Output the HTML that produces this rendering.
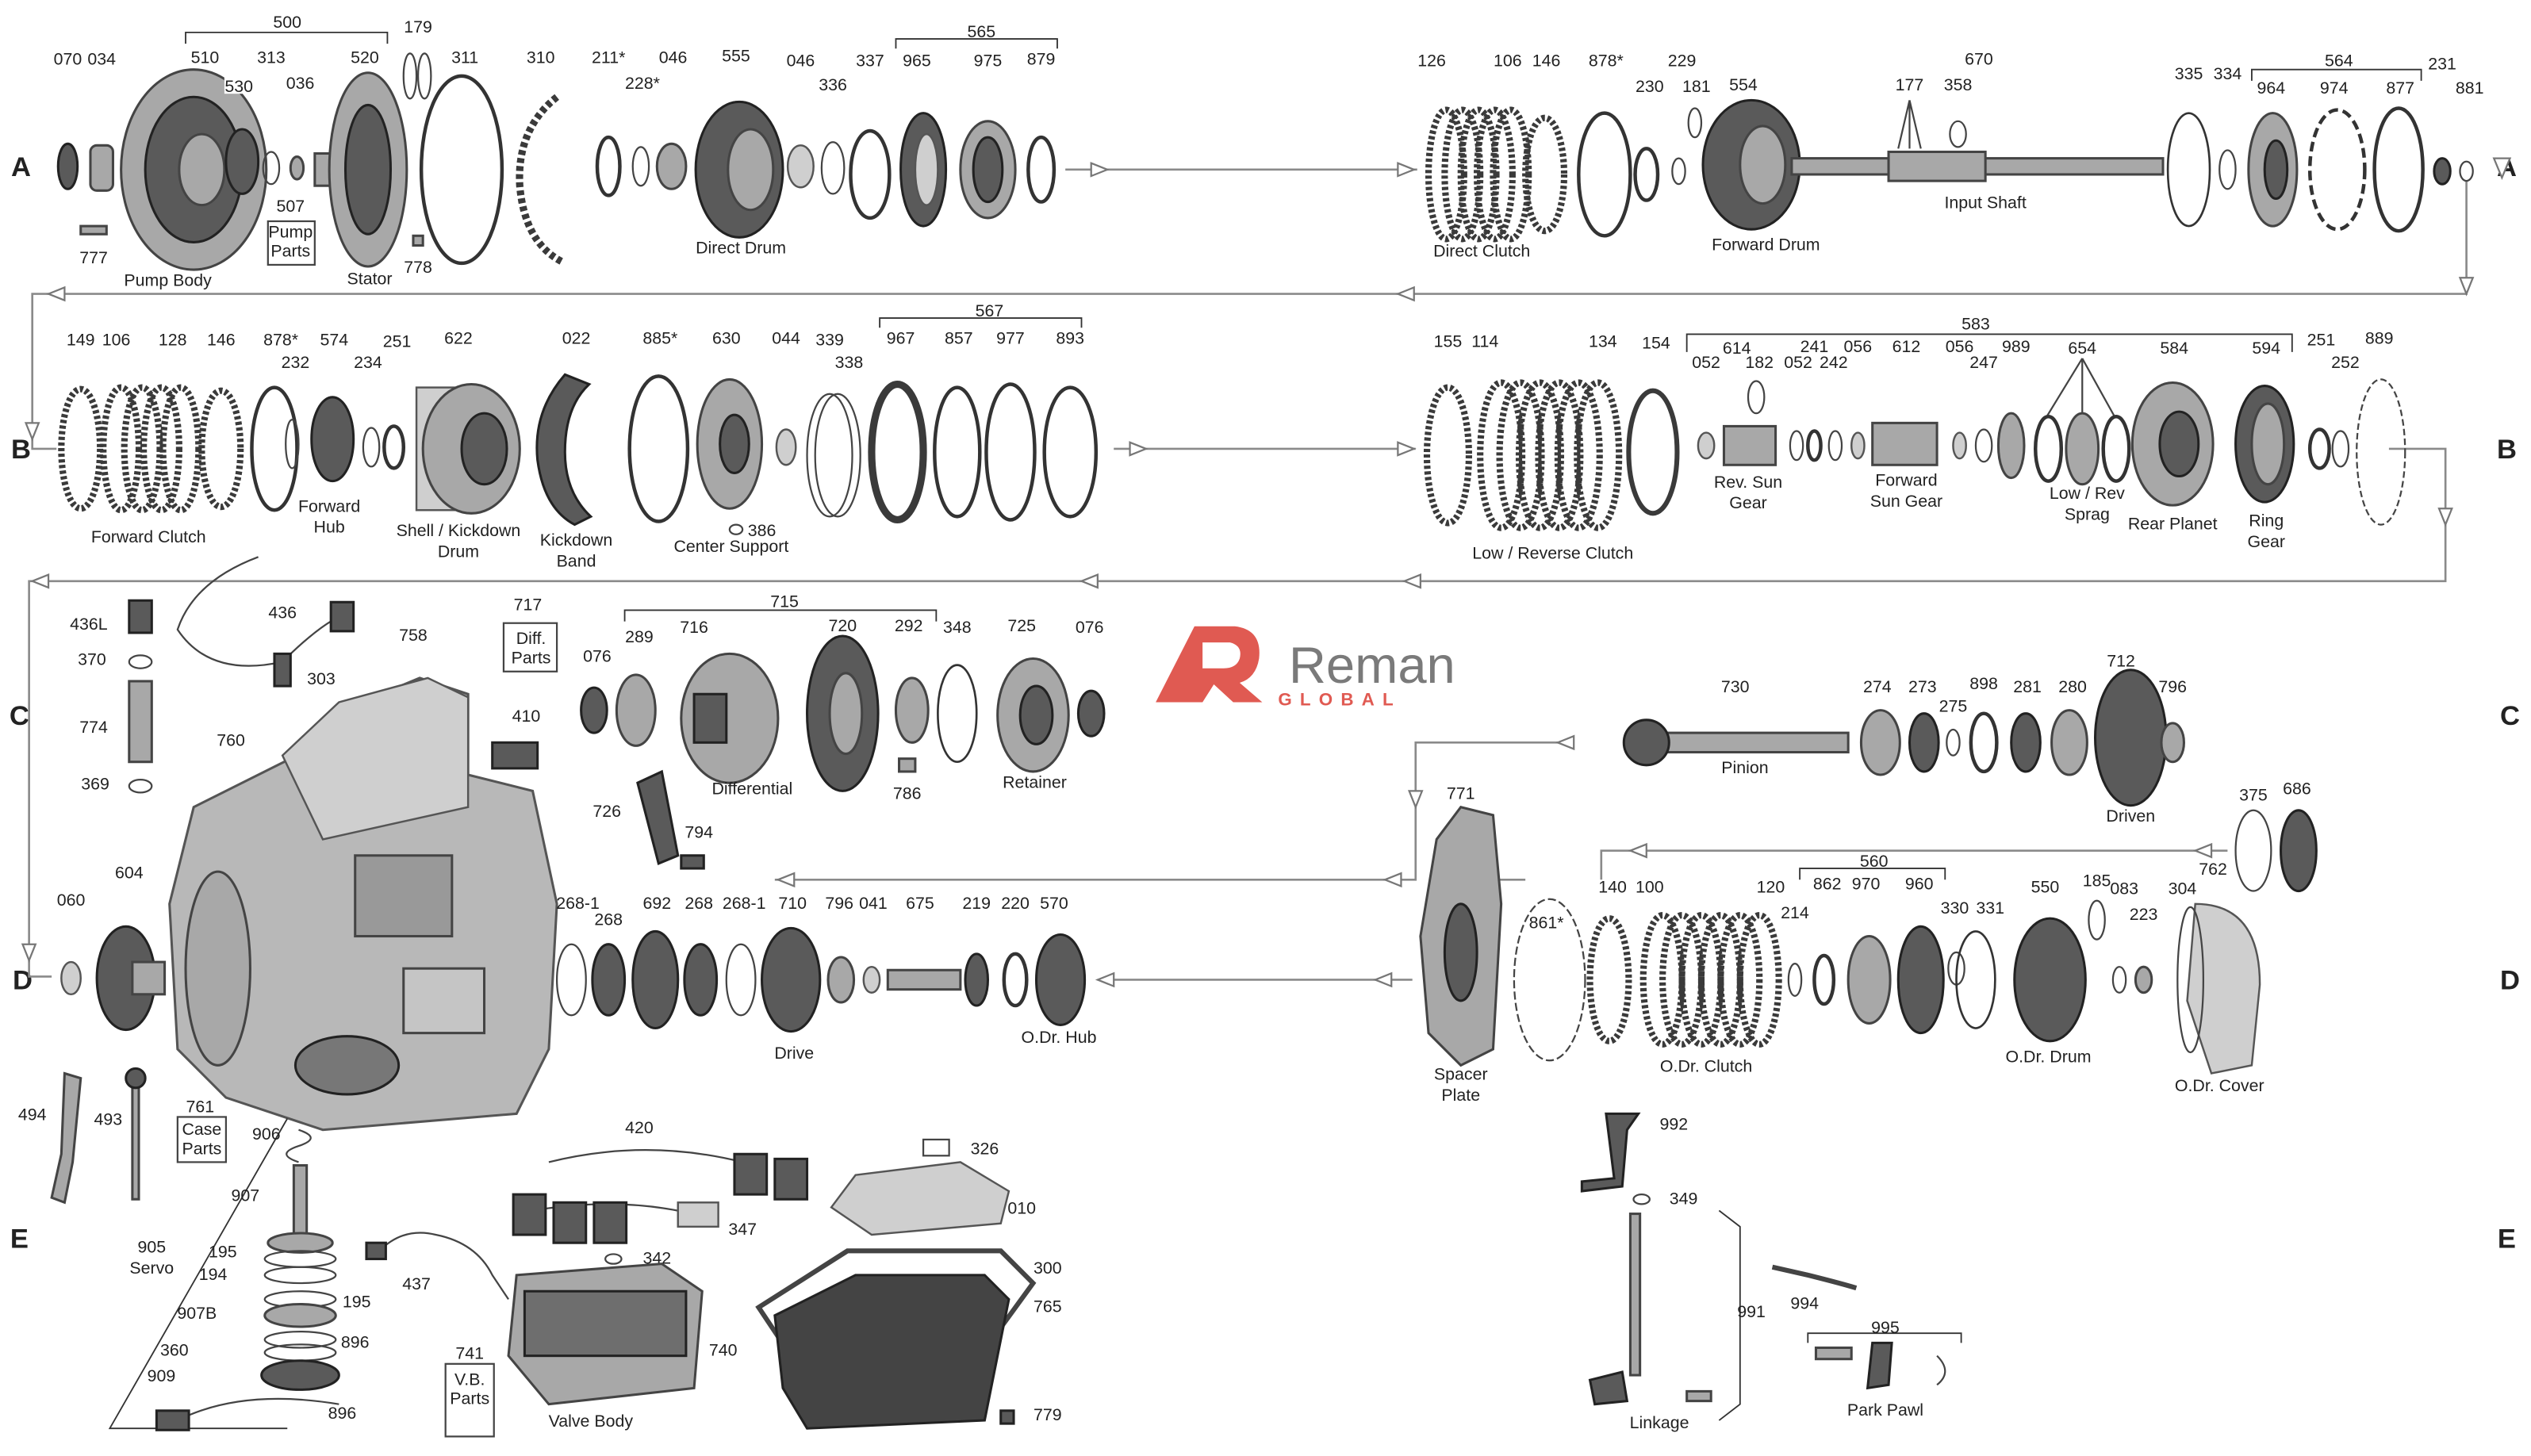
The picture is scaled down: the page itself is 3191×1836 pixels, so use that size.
<!DOCTYPE html>
<html><head><meta charset="utf-8"><style>
html,body{margin:0;padding:0;background:#fff;}
svg{display:block}
text{font-family:"Liberation Sans",sans-serif;font-size:10.5px;fill:#222;text-anchor:middle}
.r{fill:none;stroke:#333;stroke-width:2.2}
.t{fill:none;stroke:#444;stroke-width:1.1}
.k{fill:none;stroke:#3a3a3a;stroke-width:4.5}
.d{fill:#5a5a5a;stroke:#222;stroke-width:1.5}
.g{fill:#a8a8a8;stroke:#444;stroke-width:1.5}
.l{fill:#cfcfcf;stroke:#555;stroke-width:1.2}
.f{fill:none;stroke:#8a8a8a;stroke-width:1.3}
.a{fill:#fff;stroke:#777;stroke-width:1.1}
.big{font-size:17px;font-weight:bold}
.ln{fill:none;stroke:#333;stroke-width:0.9}
</style></head><body>
<svg width="3191" height="1836" viewBox="0 0 1568 902" xmlns="http://www.w3.org/2000/svg">
<rect width="1568" height="902" fill="#fff"/>
<text class="big" x="13" y="109">A</text><text class="big" x="1553" y="109">A</text>
<text class="big" x="13" y="284">B</text><text class="big" x="1553" y="284">B</text>
<text class="big" x="12" y="449">C</text><text class="big" x="1555" y="449">C</text>
<text class="big" x="14" y="613">D</text><text class="big" x="1555" y="613">D</text>
<text class="big" x="12" y="773">E</text><text class="big" x="1553" y="773">E</text>

<polyline class="f" points="660,105 878,105"/>
<polyline class="f" points="1528,112 1528,182 20,182 20,278 35,278"/>
<polyline class="f" points="690,278 877,278"/>
<polyline class="f" points="1480,278 1515,278 1515,360 18,360 18,605 32,605"/>
<polyline class="f" points="975,460 877,460 877,545 480,545"/>
<polyline class="f" points="875,607 680,607"/>
<polyline class="f" points="1380,527 992,527 992,545"/>
<polyline class="f" points="945,545 928,545"/>
<polygon class="a" points="676,101 686,105 676,109"/><polygon class="a" points="866,101 876,105 866,109"/>
<polygon class="a" points="1524,172 1528,182 1532,172"/><polygon class="a" points="876,178 866,182 876,186"/><polygon class="a" points="40,178 30,182 40,186"/>
<polygon class="a" points="16,262 20,272 24,262"/>
<polygon class="a" points="700,274 710,278 700,282"/><polygon class="a" points="866,274 876,278 866,282"/>
<polygon class="a" points="1511,315 1515,325 1519,315"/><polygon class="a" points="880,356 870,360 880,364"/><polygon class="a" points="680,356 670,360 680,364"/><polygon class="a" points="30,356 20,360 30,364"/><polygon class="a" points="14,585 18,595 22,585"/>
<polygon class="a" points="975,456 965,460 975,464"/><polygon class="a" points="873,490 877,500 881,490"/><polygon class="a" points="868,541 858,545 868,549"/><polygon class="a" points="492,541 482,545 492,549"/>
<polygon class="a" points="862,603 852,607 862,611"/><polygon class="a" points="690,603 680,607 690,611"/>
<polygon class="a" points="1020,523 1010,527 1020,531"/><polygon class="a" points="1370,523 1360,527 1370,531"/><polygon class="a" points="1545,98 1550,110 1555,98"/>

<g>
<path d="M740,388 L765,388 Q782,390 780,408 Q778,420 768,423 L782,435 L764,435 L752,424 L745,435 L716,435 Z" fill="#e05a52"/>
<path d="M745,398 L762,398 Q770,400 768,408 Q766,414 758,414 L745,414 Z" fill="#fff"/>
<text x="850" y="423" style="font-size:32px;fill:#7a7a7a">Reman</text>
<text x="830" y="437" style="font-size:11px;fill:#e05a52;letter-spacing:5px;font-weight:bold">GLOBAL</text>
</g>

<ellipse class="d" cx="42" cy="103" rx="6" ry="14"/>
<rect class="g" x="56" y="90" width="14" height="28" rx="4"/>
<ellipse class="g" cx="120" cy="105" rx="45" ry="62"/><ellipse class="d" cx="120" cy="105" rx="30" ry="45"/><ellipse class="g" cx="125" cy="105" rx="14" ry="22"/>
<ellipse class="d" cx="150" cy="100" rx="10" ry="20"/>
<ellipse class="t" cx="168" cy="104" rx="5" ry="10"/><ellipse class="g" cx="184" cy="104" rx="4" ry="7"/>
<rect class="g" x="195" y="95" width="22" height="20"/><ellipse class="g" cx="228" cy="105" rx="24" ry="60"/><ellipse class="d" cx="228" cy="105" rx="14" ry="40"/>
<ellipse class="t" cx="254" cy="47" rx="4" ry="14"/><ellipse class="t" cx="263" cy="47" rx="4" ry="14"/>
<ellipse class="r" cx="286" cy="105" rx="25" ry="58"/>
<path class="k" d="M345,60 Q320,80 322,115 Q325,150 348,162" style="stroke-dasharray:3 2"/>
<ellipse class="r" cx="377" cy="103" rx="7" ry="18"/><ellipse class="t" cx="397" cy="103" rx="5" ry="12"/>
<ellipse class="g" cx="416" cy="103" rx="9" ry="14"/>
<ellipse class="d" cx="458" cy="105" rx="27" ry="42"/><ellipse class="g" cx="465" cy="105" rx="14" ry="25"/>
<ellipse class="l" cx="496" cy="103" rx="8" ry="13"/><ellipse class="t" cx="516" cy="104" rx="7" ry="16"/>
<ellipse class="r" cx="539" cy="108" rx="12" ry="27"/>
<ellipse class="d" cx="572" cy="105" rx="14" ry="35"/><ellipse class="l" cx="574" cy="105" rx="7" ry="22"/>
<ellipse class="g" cx="612" cy="105" rx="17" ry="30"/><ellipse class="d" cx="612" cy="105" rx="9" ry="20"/>
<ellipse class="r" cx="645" cy="105" rx="8" ry="20"/>
<polyline class="ln" points="115,27 115,20 240,20 240,27"/>
<text x="178" y="17">500</text><text x="42" y="40">070</text><text x="63" y="40">034</text><text x="127" y="39">510</text><rect x="139" y="46" width="18" height="12" fill="#fff"/><text x="148" y="57">530</text><text x="168" y="39">313</text><text x="186" y="55">036</text><text x="226" y="39">520</text><text x="259" y="20">179</text><text x="288" y="39">311</text><text x="335" y="39">310</text><text x="377" y="39">211*</text><text x="398" y="55">228*</text><text x="417" y="39">046</text><text x="456" y="38">555</text><text x="496" y="41">046</text><text x="516" y="56">336</text><text x="539" y="41">337</text><polyline class="ln" points="555,30 555,24 655,24 655,30"/><text x="608" y="23">565</text><text x="568" y="41">965</text><text x="612" y="41">975</text><text x="645" y="40">879</text>
<rect x="166" y="137" width="29" height="27" class="t"/><text x="180" y="131">507</text><text x="180" y="147">Pump</text><text x="180" y="159">Parts</text>
<rect class="g" x="50" y="140" width="16" height="5"/><text x="58" y="163">777</text>
<text x="104" y="177">Pump Body</text><text x="229" y="176">Stator</text><rect class="g" x="256" y="146" width="6" height="6"/><text x="259" y="169">778</text><text x="459" y="157">Direct Drum</text>

<text x="887" y="41">126</text><text x="934" y="41">106</text><text x="958" y="41">146</text><text x="995" y="41">878*</text><text x="1042" y="41">229</text><text x="1022" y="57">230</text><text x="1051" y="57">181</text><text x="1080" y="56">554</text><text x="1183" y="56">177</text><text x="1213" y="56">358</text><text x="1226" y="40">670</text><polyline class="ln" points="1395,50 1395,43 1500,43 1500,50"/><text x="1449" y="41">564</text><text x="1356" y="49">335</text><text x="1380" y="49">334</text><text x="1407" y="58">964</text><text x="1446" y="58">974</text><text x="1487" y="58">877</text><text x="1513" y="43">231</text><text x="1530" y="58">881</text>
<g class="k" style="stroke-width:4;stroke-dasharray:2 1.5">
<ellipse cx="896" cy="108" rx="11" ry="40"/><ellipse cx="906" cy="108" rx="11" ry="40"/><ellipse cx="916" cy="108" rx="11" ry="40"/><ellipse cx="926" cy="108" rx="11" ry="40"/><ellipse cx="936" cy="108" rx="11" ry="40"/><ellipse cx="957" cy="108" rx="12" ry="35"/></g>
<ellipse class="r" cx="994" cy="108" rx="16" ry="38"/><ellipse class="r" cx="1020" cy="108" rx="7" ry="16"/><ellipse class="t" cx="1040" cy="106" rx="4" ry="8"/><ellipse class="t" cx="1050" cy="76" rx="4" ry="9"/>
<ellipse class="d" cx="1085" cy="102" rx="30" ry="40"/><ellipse class="g" cx="1092" cy="102" rx="14" ry="24"/>
<rect class="g" x="1110" y="98" width="230" height="10"/><rect class="g" x="1170" y="94" width="60" height="18"/>
<path class="t" d="M1183,62 L1176,92 M1183,62 L1183,92 M1183,62 L1190,92"/><ellipse class="t" cx="1213" cy="83" rx="5" ry="8"/>
<ellipse class="r" cx="1356" cy="105" rx="13" ry="35" style="stroke-width:1.3"/><ellipse class="t" cx="1380" cy="105" rx="5" ry="12"/>
<ellipse class="g" cx="1408" cy="105" rx="15" ry="35"/><ellipse class="d" cx="1410" cy="105" rx="7" ry="18"/>
<ellipse class="r" cx="1448" cy="105" rx="17" ry="37" style="stroke-dasharray:6 3"/><ellipse class="r" cx="1486" cy="105" rx="15" ry="38"/>
<ellipse class="d" cx="1513" cy="106" rx="5" ry="8"/><ellipse class="t" cx="1528" cy="106" rx="4" ry="6"/>
<text x="918" y="159">Direct Clutch</text><text x="1094" y="155">Forward Drum</text><text x="1230" y="129">Input Shaft</text>

<text x="50" y="214">149</text><text x="72" y="214">106</text><text x="107" y="214">128</text><text x="137" y="214">146</text><text x="174" y="214">878*</text><text x="183" y="228">232</text><text x="207" y="214">574</text><text x="228" y="228">234</text><text x="246" y="215">251</text><text x="284" y="213">622</text><text x="357" y="213">022</text><text x="409" y="213">885*</text><text x="450" y="213">630</text><text x="487" y="213">044</text><text x="514" y="214">339</text><text x="526" y="228">338</text><polyline class="ln" points="545,203 545,197 670,197 670,203"/><text x="613" y="196">567</text><text x="558" y="213">967</text><text x="594" y="213">857</text><text x="626" y="213">977</text><text x="663" y="213">893</text>
<g class="k" style="stroke-width:4;stroke-dasharray:2 1.5">
<ellipse cx="50" cy="278" rx="12" ry="37"/><ellipse cx="75" cy="278" rx="11" ry="38"/><ellipse cx="88" cy="278" rx="11" ry="38"/><ellipse cx="100" cy="278" rx="11" ry="38"/><ellipse cx="112" cy="278" rx="11" ry="38"/><ellipse cx="137" cy="278" rx="12" ry="36"/></g>
<ellipse class="r" cx="170" cy="278" rx="14" ry="38"/><ellipse class="t" cx="181" cy="275" rx="4" ry="15"/>
<ellipse class="d" cx="206" cy="272" rx="13" ry="26"/><ellipse class="t" cx="230" cy="277" rx="5" ry="12"/><ellipse class="r" cx="244" cy="277" rx="6" ry="13"/>
<rect class="l" x="258" y="240" width="32" height="76"/><ellipse class="g" cx="292" cy="278" rx="30" ry="40"/><ellipse class="d" cx="300" cy="278" rx="14" ry="22"/>
<path d="M350,232 Q330,255 333,285 Q337,315 356,325 L366,320 Q350,305 350,280 Q350,252 365,238 Z" class="d"/>
<ellipse class="r" cx="408" cy="278" rx="18" ry="45"/>
<ellipse class="g" cx="452" cy="275" rx="20" ry="40"/><ellipse class="d" cx="455" cy="275" rx="9" ry="18"/>
<ellipse class="l" cx="487" cy="277" rx="6" ry="11"/><ellipse class="t" cx="514" cy="282" rx="14" ry="38"/><ellipse class="t" cx="519" cy="282" rx="14" ry="38"/>
<ellipse class="k" cx="556" cy="280" rx="16" ry="42"/><ellipse class="r" cx="593" cy="280" rx="14" ry="40"/><ellipse class="r" cx="626" cy="280" rx="15" ry="42"/><ellipse class="r" cx="663" cy="280" rx="16" ry="40"/>
<text x="92" y="336">Forward Clutch</text><text x="204" y="317">Forward</text><text x="204" y="330">Hub</text><text x="284" y="332">Shell / Kickdown</text><text x="284" y="345">Drum</text><text x="357" y="338">Kickdown</text><text x="357" y="351">Band</text><ellipse class="t" cx="456" cy="328" rx="4" ry="3"/><text x="472" y="332">386</text><text x="453" y="342">Center Support</text>

<text x="897" y="215">155</text><text x="920" y="215">114</text><text x="993" y="215">134</text><text x="1026" y="216">154</text><polyline class="ln" points="1045,218 1045,207 1420,207 1420,218"/><text x="1224" y="204">583</text><text x="1057" y="228">052</text><text x="1076" y="219">614</text><text x="1090" y="228">182</text><text x="1124" y="218">241</text><text x="1114" y="228">052</text><text x="1136" y="228">242</text><text x="1151" y="218">056</text><text x="1181" y="218">612</text><text x="1214" y="218">056</text><text x="1229" y="228">247</text><text x="1249" y="218">989</text><text x="1290" y="219">654</text><text x="1347" y="219">584</text><text x="1404" y="219">594</text><text x="1438" y="214">251</text><text x="1453" y="228">252</text><text x="1474" y="213">889</text>
<g class="k" style="stroke-width:4;stroke-dasharray:2 1.5">
<ellipse cx="897" cy="282" rx="13" ry="42"/><ellipse cx="930" cy="282" rx="13" ry="45"/><ellipse cx="942" cy="282" rx="13" ry="45"/><ellipse cx="954" cy="282" rx="13" ry="45"/><ellipse cx="966" cy="282" rx="13" ry="45"/><ellipse cx="978" cy="282" rx="13" ry="45"/><ellipse cx="990" cy="282" rx="13" ry="45"/></g>
<ellipse class="k" cx="1024" cy="280" rx="15" ry="38" style="stroke-width:3"/>
<ellipse class="l" cx="1057" cy="276" rx="5" ry="8"/><rect class="g" x="1068" y="264" width="32" height="24"/><ellipse class="t" cx="1088" cy="246" rx="5" ry="10"/>
<ellipse class="t" cx="1113" cy="276" rx="4" ry="9"/><ellipse class="r" cx="1124" cy="276" rx="4" ry="9"/><ellipse class="t" cx="1137" cy="276" rx="4" ry="9"/><ellipse class="l" cx="1151" cy="276" rx="4" ry="8"/>
<rect class="g" x="1160" y="262" width="40" height="26"/><ellipse class="l" cx="1214" cy="276" rx="4" ry="8"/><ellipse class="t" cx="1229" cy="276" rx="5" ry="10"/>
<ellipse class="g" cx="1246" cy="276" rx="8" ry="20"/><path class="t" d="M1290,222 L1268,258 M1290,222 L1290,258 M1290,222 L1310,258"/>
<ellipse class="r" cx="1269" cy="278" rx="8" ry="20"/><ellipse class="g" cx="1290" cy="278" rx="10" ry="22"/><ellipse class="r" cx="1311" cy="278" rx="8" ry="20"/>
<ellipse class="g" cx="1346" cy="275" rx="25" ry="38"/><ellipse class="d" cx="1350" cy="275" rx="12" ry="20"/>
<ellipse class="d" cx="1403" cy="275" rx="18" ry="36"/><ellipse class="g" cx="1405" cy="275" rx="10" ry="25"/>
<ellipse class="r" cx="1437" cy="278" rx="6" ry="12"/><ellipse class="t" cx="1450" cy="278" rx="5" ry="11"/><ellipse class="t" cx="1475" cy="280" rx="15" ry="45" style="stroke-dasharray:4 2"/>
<text x="962" y="346">Low / Reverse Clutch</text><text x="1083" y="302">Rev. Sun</text><text x="1083" y="315">Gear</text><text x="1181" y="301">Forward</text><text x="1181" y="314">Sun Gear</text><text x="1293" y="309">Low / Rev</text><text x="1293" y="322">Sprag</text><text x="1346" y="328">Rear Planet</text><text x="1404" y="326">Ring</text><text x="1404" y="339">Gear</text>

<path d="M120,500 L180,470 L200,445 L260,420 L290,430 L290,480 L330,490 L345,560 L340,650 L320,690 L200,700 L140,680 L110,650 L105,560 Z" fill="#b8b8b8" stroke="#555" stroke-width="1.5"/>
<path class="l" d="M175,468 L210,435 L265,420 L290,432 L290,500 L200,520 Z"/>
<ellipse class="d" cx="215" cy="660" rx="32" ry="18" style="fill:#777"/><ellipse class="g" cx="135" cy="600" rx="20" ry="60"/>
<rect class="g" x="220" y="530" width="60" height="50" style="fill:#999"/><rect class="g" x="250" y="600" width="50" height="40" style="fill:#c5c5c5"/>
<path class="t" d="M160,345 Q120,360 110,390 Q130,420 175,410 Q200,385 215,380"/>
<rect class="d" x="80" y="372" width="14" height="20"/><ellipse class="t" cx="87" cy="410" rx="7" ry="4"/><rect class="g" x="80" y="422" width="14" height="50"/><ellipse class="t" cx="87" cy="487" rx="7" ry="4"/>
<rect class="d" x="170" y="405" width="10" height="20"/><rect class="d" x="205" y="373" width="14" height="18"/>
<text x="55" y="390">436L</text><text x="175" y="383">436</text><text x="57" y="412">370</text><text x="58" y="454">774</text><text x="59" y="489">369</text><text x="256" y="397">758</text><text x="199" y="424">303</text><text x="143" y="462">760</text>
<rect x="312" y="386" width="33" height="30" class="t"/><text x="327" y="378">717</text><text x="329" y="399">Diff.</text><text x="329" y="411">Parts</text>
<rect class="d" x="305" y="460" width="28" height="16"/><text x="326" y="447">410</text>
<polyline class="ln" points="387,385 387,378 580,378 580,385"/><text x="486" y="376">715</text><text x="370" y="410">076</text><text x="396" y="398">289</text><text x="430" y="392">716</text><text x="522" y="391">720</text><text x="563" y="391">292</text><text x="593" y="392">348</text><text x="633" y="391">725</text><text x="675" y="392">076</text>
<ellipse class="d" cx="368" cy="440" rx="8" ry="14"/><ellipse class="g" cx="394" cy="440" rx="12" ry="22"/>
<ellipse class="g" cx="452" cy="445" rx="30" ry="40"/><rect class="d" x="430" y="430" width="20" height="30"/>
<ellipse class="d" cx="522" cy="442" rx="22" ry="48"/><ellipse class="g" cx="524" cy="442" rx="10" ry="25"/>
<ellipse class="g" cx="565" cy="440" rx="10" ry="20"/><ellipse class="r" cx="593" cy="442" rx="12" ry="30" style="stroke-width:1.3"/>
<ellipse class="g" cx="640" cy="443" rx="22" ry="35"/><ellipse class="d" cx="642" cy="443" rx="10" ry="18"/><ellipse class="d" cx="676" cy="442" rx="8" ry="14"/>
<rect class="g" x="557" y="470" width="10" height="8"/><text x="466" y="492">Differential</text><text x="562" y="495">786</text><text x="641" y="488">Retainer</text>
<path class="d" d="M395,485 L410,478 L420,530 L408,535 Z"/><text x="376" y="506">726</text><text x="433" y="519">794</text><rect class="d" x="422" y="530" width="14" height="8"/>
<text x="44" y="561">060</text><text x="80" y="544">604</text>
<ellipse class="l" cx="44" cy="606" rx="6" ry="10"/><ellipse class="d" cx="78" cy="606" rx="18" ry="32"/><rect class="g" x="82" y="596" width="20" height="20"/>
<text x="358" y="563">268-1</text><text x="377" y="573">268</text><text x="407" y="563">692</text><text x="433" y="563">268</text><text x="461" y="563">268-1</text><text x="491" y="563">710</text><text x="520" y="563">796</text><text x="541" y="563">041</text><text x="570" y="563">675</text><text x="605" y="563">219</text><text x="629" y="563">220</text><text x="653" y="563">570</text>
<ellipse class="t" cx="354" cy="607" rx="9" ry="22"/><ellipse class="d" cx="377" cy="607" rx="10" ry="22"/><ellipse class="d" cx="406" cy="607" rx="14" ry="30"/><ellipse class="d" cx="434" cy="607" rx="10" ry="22"/><ellipse class="t" cx="459" cy="607" rx="9" ry="22"/>
<ellipse class="d" cx="490" cy="607" rx="18" ry="32"/><ellipse class="g" cx="521" cy="607" rx="8" ry="14"/><ellipse class="l" cx="540" cy="607" rx="5" ry="8"/><rect class="g" x="550" y="601" width="45" height="12"/>
<ellipse class="d" cx="605" cy="607" rx="7" ry="16"/><ellipse class="r" cx="629" cy="607" rx="7" ry="16"/><ellipse class="d" cx="657" cy="607" rx="15" ry="28"/>
<text x="492" y="656">Drive</text><text x="656" y="646">O.Dr. Hub</text>

<text x="1075" y="429">730</text><text x="1163" y="429">274</text><text x="1191" y="429">273</text><text x="1210" y="441">275</text><text x="1229" y="427">898</text><text x="1256" y="429">281</text><text x="1284" y="429">280</text><text x="1314" y="413">712</text><text x="1346" y="429">796</text>
<rect class="g" x="1030" y="454" width="115" height="12"/><ellipse class="d" cx="1020" cy="460" rx="14" ry="14"/>
<ellipse class="g" cx="1165" cy="460" rx="12" ry="20"/><ellipse class="d" cx="1192" cy="460" rx="9" ry="18"/><ellipse class="t" cx="1210" cy="460" rx="4" ry="8"/><ellipse class="r" cx="1229" cy="460" rx="8" ry="18"/>
<ellipse class="d" cx="1255" cy="460" rx="9" ry="18"/><ellipse class="g" cx="1282" cy="460" rx="11" ry="20"/><ellipse class="d" cx="1320" cy="457" rx="22" ry="42"/><ellipse class="g" cx="1346" cy="460" rx="7" ry="12"/>
<text x="1081" y="479">Pinion</text><text x="1320" y="509">Driven</text><text x="1396" y="496">375</text><text x="1423" y="492">686</text><ellipse class="t" cx="1396" cy="527" rx="11" ry="25"/><ellipse class="d" cx="1424" cy="527" rx="11" ry="25"/>
<path class="g" d="M905,500 L925,505 L930,560 L925,650 L905,660 L885,640 L880,580 L890,520 Z"/><ellipse class="d" cx="905" cy="590" rx="10" ry="30"/>
<text x="905" y="495">771</text><text x="958" y="575">861*</text><ellipse class="t" cx="960" cy="607" rx="22" ry="50" style="stroke-dasharray:5 2"/>
<text x="999" y="553">140</text><text x="1022" y="553">100</text><text x="1097" y="553">120</text><text x="1112" y="569">214</text><polyline class="ln" points="1115,545 1115,538 1205,538 1205,545"/><text x="1161" y="537">560</text><text x="1132" y="551">862</text><text x="1156" y="551">970</text><text x="1189" y="551">960</text><text x="1211" y="566">330</text><text x="1233" y="566">331</text><text x="1267" y="553">550</text><text x="1299" y="549">185</text><text x="1316" y="554">083</text><text x="1328" y="570">223</text><text x="1352" y="554">304</text><text x="1371" y="542">762</text>
<g class="k" style="stroke-width:4;stroke-dasharray:2 1.5">
<ellipse cx="997" cy="607" rx="12" ry="38"/><ellipse cx="1030" cy="607" rx="12" ry="40"/><ellipse cx="1042" cy="607" rx="12" ry="40"/><ellipse cx="1054" cy="607" rx="12" ry="40"/><ellipse cx="1066" cy="607" rx="12" ry="40"/><ellipse cx="1078" cy="607" rx="12" ry="40"/><ellipse cx="1090" cy="607" rx="12" ry="40"/></g>
<ellipse class="t" cx="1112" cy="607" rx="4" ry="10"/><ellipse class="r" cx="1130" cy="607" rx="6" ry="15"/><ellipse class="g" cx="1158" cy="607" rx="13" ry="27"/>
<ellipse class="d" cx="1190" cy="607" rx="14" ry="33"/><ellipse class="t" cx="1212" cy="600" rx="5" ry="10"/><ellipse class="r" cx="1224" cy="607" rx="12" ry="30" style="stroke-width:1.3"/>
<ellipse class="d" cx="1270" cy="607" rx="22" ry="38"/><ellipse class="t" cx="1299" cy="570" rx="5" ry="12"/><ellipse class="t" cx="1313" cy="607" rx="4" ry="8"/><ellipse class="g" cx="1328" cy="607" rx="5" ry="8"/>
<path class="l" d="M1360,560 Q1400,560 1400,610 L1395,660 L1370,665 L1355,620 Z"/><ellipse class="t" cx="1357" cy="607" rx="8" ry="45"/>
<text x="905" y="669">Spacer</text><text x="905" y="682">Plate</text><text x="1057" y="664">O.Dr. Clutch</text><text x="1269" y="658">O.Dr. Drum</text><text x="1375" y="676">O.Dr. Cover</text>

<path class="g" d="M40,665 L50,668 L45,720 L40,745 L32,742 L38,715 Z"/><text x="20" y="694">494</text>
<rect class="g" x="82" y="668" width="4" height="75"/><ellipse class="d" cx="84" cy="668" rx="6" ry="6"/><text x="67" y="697">493</text>
<rect x="110" y="692" width="30" height="28" class="t"/><text x="124" y="689">761</text><text x="125" y="703">Case</text><text x="125" y="715">Parts</text>
<polyline class="ln" points="178,693 68,885 178,885"/>
<text x="165" y="706">906</text><text x="94" y="776">905</text><text x="94" y="789">Servo</text><text x="152" y="744">907</text><text x="138" y="779">195</text><text x="132" y="793">194</text><text x="221" y="810">195</text><text x="122" y="817">907B</text><text x="220" y="835">896</text><text x="108" y="840">360</text><text x="100" y="856">909</text><text x="212" y="879">896</text>
<path class="t" d="M185,700 Q200,705 185,710 Q170,715 185,720"/><rect class="g" x="182" y="722" width="8" height="45"/><ellipse class="g" cx="186" cy="770" rx="20" ry="6"/>
<ellipse class="t" cx="186" cy="780" rx="22" ry="5"/><ellipse class="t" cx="186" cy="790" rx="22" ry="5"/><ellipse class="t" cx="186" cy="805" rx="22" ry="5"/><ellipse class="g" cx="186" cy="815" rx="22" ry="7"/><ellipse class="t" cx="186" cy="830" rx="22" ry="5"/><ellipse class="t" cx="186" cy="838" rx="22" ry="5"/><ellipse class="d" cx="186" cy="852" rx="24" ry="9"/><path class="t" d="M110,880 Q150,860 210,870"/><rect class="d" x="97" y="874" width="20" height="12"/>
<text x="396" y="702">420</text><path class="t" d="M340,720 Q400,705 460,720 M330,750 Q390,740 440,755"/>
<rect class="d" x="318" y="740" width="20" height="25"/><rect class="d" x="343" y="745" width="20" height="25"/><rect class="d" x="368" y="745" width="20" height="25"/><rect class="d" x="455" y="715" width="20" height="25"/><rect class="d" x="480" y="718" width="20" height="25"/><rect class="l" x="420" y="745" width="25" height="15"/>
<text x="460" y="765">347</text><ellipse class="t" cx="380" cy="780" rx="5" ry="3"/><text x="407" y="783">342</text>
<path class="t" d="M235,775 Q250,760 270,765 Q295,770 305,790 L315,805"/><rect class="d" x="227" y="770" width="12" height="10"/><text x="258" y="799">437</text>
<path class="g" d="M320,790 L410,783 L435,800 L430,860 L340,870 L315,840 Z"/><rect class="d" x="325" y="800" width="100" height="40" style="fill:#6e6e6e"/>
<rect x="276" y="845" width="30" height="45" class="t"/><text x="291" y="842">741</text><text x="291" y="858">V.B.</text><text x="291" y="870">Parts</text><text x="366" y="884">Valve Body</text><text x="448" y="840">740</text>
<rect class="t" x="572" y="706" width="16" height="10"/><text x="610" y="715">326</text>
<path class="l" d="M530,728 L595,720 L625,738 L620,758 L540,765 L515,748 Z"/><text x="633" y="752">010</text>
<path class="t" d="M470,810 L525,775 L620,775 L640,795 L600,850 L500,855 Z" style="stroke-width:3"/>
<path class="d" d="M480,815 L530,790 L610,790 L625,805 L610,880 L500,885 L485,860 Z" style="fill:#444"/>
<text x="649" y="789">300</text><text x="649" y="813">765</text><rect class="d" x="620" y="874" width="8" height="8"/><text x="649" y="880">779</text>
<path class="d" d="M995,690 L1015,690 L1008,700 L1005,735 L980,738 L980,732 L1000,730 Z"/><text x="1037" y="700">992</text>
<ellipse class="t" cx="1017" cy="743" rx="5" ry="3"/><text x="1043" y="746">349</text>
<rect class="g" x="1010" y="752" width="6" height="100"/><path class="d" d="M985,855 L1005,850 L1008,868 L988,870 Z"/><rect class="g" x="1045" y="862" width="15" height="6"/>
<polyline class="ln" points="1065,750 1078,760 1078,870 1065,880"/><text x="1085" y="816">991</text><text x="1028" y="885">Linkage</text>
<path class="t" d="M1098,785 L1120,790 Q1140,795 1150,798" style="stroke-width:3"/><text x="1118" y="811">994</text>
<polyline class="ln" points="1120,832 1120,826 1215,826 1215,832"/><text x="1168" y="826">995</text>
<rect class="g" x="1125" y="835" width="22" height="7"/><path class="d" d="M1160,832 L1172,832 L1170,858 L1157,860 Z"/><path class="t" d="M1200,840 Q1210,850 1200,858"/>
<text x="1168" y="877">Park Pawl</text>
</svg>
</body></html>
